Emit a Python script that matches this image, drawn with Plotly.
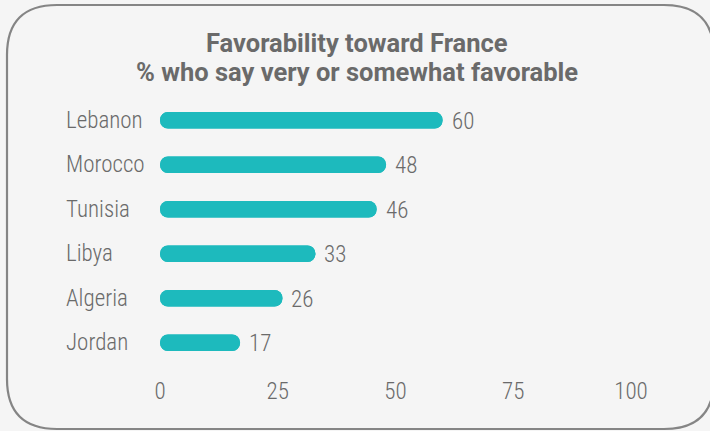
import plotly.graph_objects as go

# Survey results: share saying very or somewhat favorable toward France
countries = ["Lebanon", "Morocco", "Tunisia", "Libya", "Algeria", "Jordan"]
favorable = [60, 48, 46, 33, 26, 17]
x_ticks = [0, 25, 50, 75, 100]

W, H = 710, 431
ML, MR, MT, MB = 160, 79, 98, 66
PW, PH = W - ML - MR, H - MT - MB

BAR = "#1dbabd"
TEXT = "#6a6a6a"
BG = "#f5f5f5"
LABEL_FONT = "Roboto Condensed, Open Sans Condensed, Liberation Sans Narrow, DejaVu Sans Condensed, sans-serif"
TITLE_FONT = "Roboto, Arial, sans-serif"


def px_x(p):
    return (p - ML) / PW


def px_y(p):
    return (H - MB - p) / PH


fig = go.Figure()

# Rounded at the far end (value side)
fig.add_trace(go.Bar(
    y=countries, x=favorable, base=0, orientation="h",
    marker=dict(color=BAR, cornerradius=8, line=dict(width=0)),
    width=0.37, hoverinfo="skip", showlegend=False,
))
# Same span drawn leftwards so the start is rounded too
fig.add_trace(go.Bar(
    y=countries, x=[-v for v in favorable], base=favorable, orientation="h",
    marker=dict(color=BAR, cornerradius=8, line=dict(width=0)),
    width=0.37, hoverinfo="skip", showlegend=False,
))

label_font = dict(family=LABEL_FONT, size=23, color=TEXT, weight=300)

annotations = []
for c, v in zip(countries, favorable):
    annotations.append(dict(
        x=px_x(64), xref="paper", y=c, yref="y", text=c, showarrow=False,
        xanchor="left", yanchor="middle", font=label_font,
    ))
    annotations.append(dict(
        x=v, xref="x", y=c, yref="y", text=str(v), showarrow=False,
        xanchor="left", yanchor="middle", xshift=7, yshift=-1, font=label_font,
    ))

# Two-line heading
for text, ypx in [("<b>Favorability toward France</b>", 43),
                  ("<b>% who say very or somewhat favorable</b>", 72)]:
    annotations.append(dict(
        x=px_x(357), xref="paper", y=px_y(ypx), yref="paper",
        text=text, showarrow=False, xanchor="center", yanchor="middle",
        font=dict(family=TITLE_FONT, size=25.5, color=TEXT),
    ))

# Rounded frame around the whole chart
x0, x1, y0, y1, r = 7, 714, 5, 429, 50
pts = [
    ("M", px_x(x0 + r), px_y(y0)),
    ("L", px_x(x1 - r), px_y(y0)),
    ("Q", px_x(x1), px_y(y0), px_x(x1), px_y(y0 + r)),
    ("L", px_x(x1), px_y(y1 - r)),
    ("Q", px_x(x1), px_y(y1), px_x(x1 - r), px_y(y1)),
    ("L", px_x(x0 + r), px_y(y1)),
    ("Q", px_x(x0), px_y(y1), px_x(x0), px_y(y1 - r)),
    ("L", px_x(x0), px_y(y0 + r)),
    ("Q", px_x(x0), px_y(y0), px_x(x0 + r), px_y(y0)),
]
path = ""
for p in pts:
    cmd = p[0]
    coords = p[1:]
    pairs = [f"{coords[i]:.5f},{coords[i + 1]:.5f}" for i in range(0, len(coords), 2)]
    path += cmd + " ".join(pairs) + " "
path += "Z"

fig.update_layout(
    width=W, height=H,
    margin=dict(l=ML, r=MR, t=MT, b=MB),
    paper_bgcolor=BG, plot_bgcolor=BG,
    barmode="overlay",
    showlegend=False,
    annotations=annotations,
    shapes=[dict(type="path", path=path, xref="paper", yref="paper",
                 line=dict(color="#858585", width=2.2), layer="below")],
    xaxis=dict(
        range=[0, 100], tickvals=x_ticks, ticktext=[str(t) for t in x_ticks],
        showgrid=False, zeroline=False, showline=False, ticks="",
        ticklabelstandoff=10,
        tickfont=label_font,
        fixedrange=True,
    ),
    yaxis=dict(
        categoryorder="array", categoryarray=countries, autorange="reversed",
        showticklabels=False, showgrid=False, zeroline=False, showline=False,
        ticks="", fixedrange=True,
    ),
)

fig.write_html("out.html")
